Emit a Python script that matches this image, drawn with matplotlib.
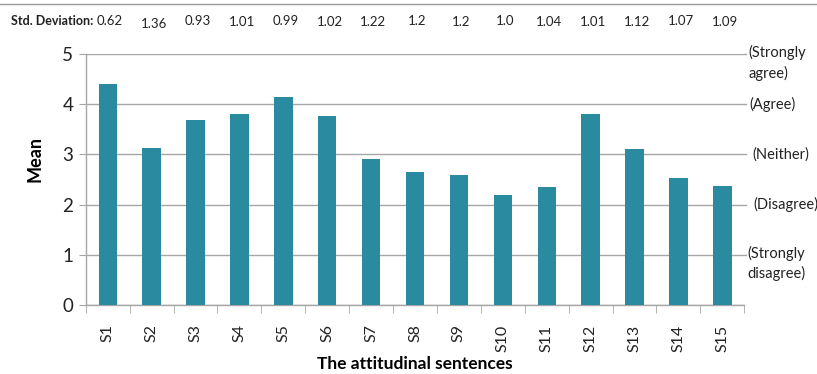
import numpy as np
import matplotlib.pyplot as plt
from matplotlib.transforms import blended_transform_factory
from matplotlib.lines import Line2D

plt.rcParams['font.family'] = ['Lato', 'DejaVu Sans']

sentences = ['S1', 'S2', 'S3', 'S4', 'S5', 'S6', 'S7', 'S8', 'S9', 'S10',
             'S11', 'S12', 'S13', 'S14', 'S15']
means = [4.40, 3.13, 3.69, 3.80, 4.14, 3.76, 2.91, 2.65, 2.59, 2.19,
         2.35, 3.80, 3.11, 2.53, 2.37]
std_dev = ['0.62', '1.36', '0.93', '1.01', '0.99', '1.02', '1.22', '1.2', '1.2',
           '1.0', '1.04', '1.01', '1.12', '1.07', '1.09']
scale_labels = ['(Strongly\ndisagree)', '(Disagree)', '(Neither)', '(Agree)',
                '(Strongly\nagree)']

bar_color = '#2a8a9f'
grid_color = '#a6a6a6'

fig = plt.figure(figsize=(8.17, 3.74), dpi=100)
ax = fig.add_axes([0.105, 0.1845, 0.806, 0.671])

x = np.arange(len(sentences))
ax.bar(x, means, width=0.42, color=bar_color, zorder=3)

ax.set_xlim(-0.5, len(sentences) - 0.5)
ax.set_ylim(0, 5)
ax.set_yticks(range(6))
ax.yaxis.grid(True, color=grid_color, linewidth=1.0, zorder=0)
for s in ['top', 'right']:
    ax.spines[s].set_visible(False)
for s in ['left', 'bottom']:
    ax.spines[s].set_color(grid_color)
    ax.spines[s].set_linewidth(1.0)

# category labels, ticks sit between the bars
ax.set_xticks(x)
ax.set_xticklabels(sentences, rotation=90, fontsize=11.5, color='#222222')
ax.tick_params(axis='x', length=0, pad=14)
ax.set_xticks(np.arange(-0.5, len(sentences)), minor=True)
ax.tick_params(axis='x', which='minor', length=6, color=grid_color)
ax.tick_params(axis='y', length=5, color=grid_color, labelsize=13.5,
               labelcolor='#222222', pad=4)

ax.set_ylabel('Mean', fontsize=13, fontweight='bold')
ax.yaxis.set_label_coords(-0.064, 0.58)
ax.set_xlabel('The attitudinal sentences', fontsize=12.5, fontweight='bold',
              labelpad=3)

# gridlines run on past the plot edge to the scale labels
trans = blended_transform_factory(ax.transAxes, ax.transData)
for lvl in range(1, 6):
    ax.add_line(Line2D([1.0, 1.003], [lvl, lvl], transform=trans,
                       color=grid_color, linewidth=1.0, clip_on=False))
label_x = {1: 1.005, 2: 1.014, 3: 1.012, 4: 1.008, 5: 1.006}
for lvl, lab in zip(range(1, 6), scale_labels):
    t = ax.text(label_x[lvl], lvl, lab, transform=trans, fontsize=10.5,
                color='#222222', va='top' if '\n' in lab else 'center',
                ha='left', linespacing=1.45)
    if '\n' in lab:
        t.set_y(lvl + 0.18)

# std. deviation row above the plot
top = blended_transform_factory(ax.transData, fig.transFigure)
fig.text(0.014, 0.945, 'Std. Deviation:', fontsize=9, fontweight='bold',
         color='#222222', va='center')
offsets = [0.0, -0.01, 0.0, -0.003, 0.0, -0.003, -0.003, 0.0, -0.003,
           0.0, -0.003, -0.003, -0.003, 0.0, -0.003]
for xi, sd, off in zip(x, std_dev, offsets):
    ax.text(xi + 0.05, 0.945 + off, sd, transform=top, fontsize=9.5,
            color='#222222', ha='center', va='center')

fig.add_artist(Line2D([0, 1], [0.99, 0.99], transform=fig.transFigure,
                      color='#999999', linewidth=1.0))

fig.savefig('out.png', dpi=100)
